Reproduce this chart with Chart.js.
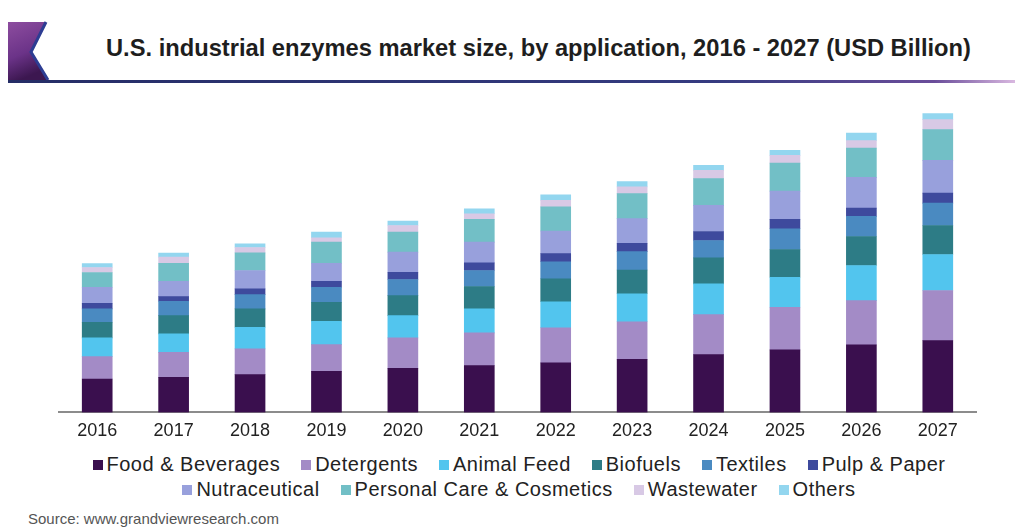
<!DOCTYPE html>
<html>
<head>
<meta charset="utf-8">
<script src="https://cdn.jsdelivr.net/npm/chart.js@4.4.1/dist/chart.umd.min.js"></script>
<style>
  html, body { margin: 0; padding: 0; background: #fff; }
  body { width: 1015px; height: 527px; position: relative; overflow: hidden; font-family: "Liberation Sans", Arial, sans-serif; }
  #logo { position: absolute; left: 0; top: 0; }
  #titulo { position: absolute; left: 106px; top: 36px; font-size: 23.7px; line-height: 24px; font-weight: bold; color: #1e1e1e; white-space: nowrap; }
  #linea { position: absolute; left: 8px; top: 80px; width: 1007px; height: 3px;
           background: linear-gradient(to right, #252d66, #353b80 70%, #6a4d9a 92%, #d9b8e0); }
  #wrap { position: absolute; left: 0; top: 88px; width: 1015px; height: 362px; }
  #leyenda { position: absolute; left: 69px; top: 452px; width: 900px; display: flex; flex-wrap: wrap; justify-content: center;
             font-size: 20px; letter-spacing: 0.5px; line-height: 25px; color: #222; }
  .item { display: flex; align-items: center; margin: 0 10.5px; white-space: nowrap; }
  .caja { width: 10px; height: 10px; margin-right: 4px; }
  #fuente { position: absolute; left: 28px; top: 511px; font-size: 15px; line-height: 15px; color: #555; white-space: nowrap; }
</style>
</head>
<body>
<svg id="logo" width="60" height="84">
  <defs>
    <linearGradient id="g1" x1="0" y1="0" x2="0.3" y2="1">
      <stop offset="0" stop-color="#8d4d9f"/>
      <stop offset="0.6" stop-color="#6b3388"/>
      <stop offset="1" stop-color="#3c1750"/>
    </linearGradient>
  </defs>
  <polygon points="8,22 46,22 31,52 48,80 8,80" fill="url(#g1)"/>
  <polyline points="46,22 31,52 48,80" fill="none" stroke="#2d3d93" stroke-width="3"/>
</svg>
<div id="titulo">U.S. industrial enzymes market size, by application, 2016 - 2027 (USD Billion)</div>
<div id="linea"></div>
<div id="wrap"><canvas id="grafico"></canvas></div>
<div id="leyenda"></div>
<div id="fuente">Source: www.grandviewresearch.com</div>
<script>
// años y segmentos (USD Billion)
const anios = ['2016', '2017', '2018', '2019', '2020', '2021', '2022', '2023', '2024', '2025', '2026', '2027'];

const alimentos   = [0.334, 0.350, 0.377, 0.410, 0.440, 0.467, 0.495, 0.529, 0.577, 0.624, 0.674, 0.717];
const detergentes = [0.223, 0.250, 0.257, 0.267, 0.304, 0.327, 0.350, 0.376, 0.400, 0.426, 0.443, 0.500];
const piensos     = [0.187, 0.184, 0.216, 0.233, 0.223, 0.240, 0.260, 0.280, 0.307, 0.300, 0.350, 0.360];
const biocombust  = [0.156, 0.183, 0.184, 0.190, 0.200, 0.223, 0.230, 0.237, 0.260, 0.277, 0.290, 0.290];
const textiles    = [0.134, 0.143, 0.143, 0.150, 0.160, 0.160, 0.170, 0.183, 0.173, 0.207, 0.200, 0.223];
const papel       = [0.056, 0.047, 0.057, 0.060, 0.073, 0.077, 0.080, 0.084, 0.090, 0.093, 0.083, 0.100];
const nutraceut   = [0.160, 0.153, 0.183, 0.180, 0.200, 0.206, 0.227, 0.246, 0.260, 0.283, 0.307, 0.327];
const cuidadoPers = [0.147, 0.180, 0.177, 0.210, 0.200, 0.227, 0.240, 0.250, 0.267, 0.280, 0.293, 0.307];
const aguasResid  = [0.050, 0.060, 0.053, 0.044, 0.067, 0.057, 0.067, 0.067, 0.083, 0.077, 0.074, 0.100];
const otros       = [0.040, 0.040, 0.037, 0.056, 0.043, 0.050, 0.053, 0.053, 0.050, 0.050, 0.076, 0.060];

const SERIES = [
  { label: 'Food & Beverages',           data: alimentos,   color: '#3a0f4e' },
  { label: 'Detergents',                 data: detergentes, color: '#a38bc6' },
  { label: 'Animal Feed',                data: piensos,     color: '#52c5ee' },
  { label: 'Biofuels',                   data: biocombust,  color: '#2d7c86' },
  { label: 'Textiles',                   data: textiles,    color: '#4a8ac1' },
  { label: 'Pulp & Paper',               data: papel,       color: '#3e4a9d' },
  { label: 'Nutraceutical',              data: nutraceut,   color: '#98a0dc' },
  { label: 'Personal Care & Cosmetics',  data: cuidadoPers, color: '#72bfc6' },
  { label: 'Wastewater',                 data: aguasResid,  color: '#d8c9e5' },
  { label: 'Others',                     data: otros,       color: '#93d6ef' },
];

const ctx = document.getElementById('grafico');
const chart = new Chart(ctx, {
  type: 'bar',
  data: {
    labels: anios,
    datasets: SERIES.map(s => ({
      label: s.label,
      data: s.data,
      backgroundColor: s.color,
      borderWidth: 0,
      barThickness: 30,
    }))
  },
  options: {
    responsive: true,
    maintainAspectRatio: false,
    animation: false,
    layout: { padding: { left: 59, right: 39, top: 12, bottom: 0 } },
    plugins: {
      legend: { display: false },
      tooltip: { enabled: false }
    },
    scales: {
      x: {
        stacked: true,
        grid: { display: false, drawTicks: false },
        border: { display: true, color: '#8c8c8c', width: 2 },
        ticks: { color: '#222', padding: 8, font: { family: '"Liberation Sans", Arial, sans-serif', size: 18 } }
      },
      y: {
        stacked: true,
        display: false,
        min: 0, max: 3.12
      }
    }
  }
});

// leyenda en HTML, a partir de los datasets
const leyenda = document.getElementById('leyenda');
chart.data.datasets.forEach(ds => {
  const item = document.createElement('div');
  item.className = 'item';
  const caja = document.createElement('span');
  caja.className = 'caja';
  caja.style.background = ds.backgroundColor;
  const txt = document.createElement('span');
  txt.textContent = ds.label;
  item.appendChild(caja);
  item.appendChild(txt);
  leyenda.appendChild(item);
});
</script>
</body>
</html>
